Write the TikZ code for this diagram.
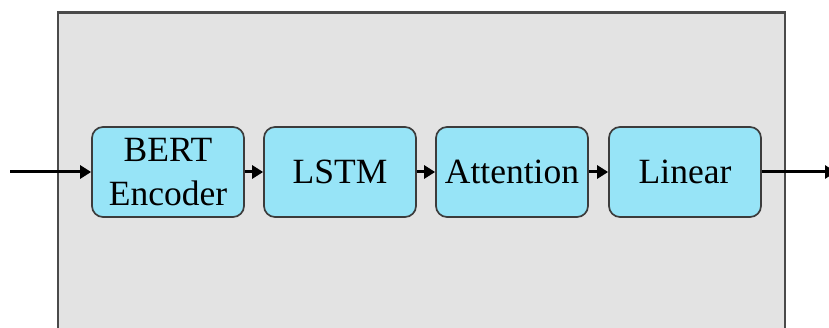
\documentclass[tikz,border=0pt]{standalone}
\usepackage{fontspec}
\setmainfont{Liberation Serif}
\usetikzlibrary{arrows.meta}
\definecolor{panelfill}{HTML}{E3E3E3}
\definecolor{panelline}{HTML}{4A4A4A}
\definecolor{blockfill}{HTML}{97E4F7}
\definecolor{blockline}{HTML}{3C3C3C}
\tikzset{
  x=1pt, y=-1pt,
  block/.style={draw=blockline, fill=blockfill, line width=1.7pt,
    rounded corners=11pt, minimum width=152pt, minimum height=90pt,
    inner sep=0pt, align=center,
    font=\fontsize{35.5}{44}\selectfont},
  flow/.style={line width=3pt, -{Triangle[length=11pt,width=13pt]}},
}
\begin{document}
\begin{tikzpicture}
  \useasboundingbox (0,0) rectangle (829,328);
  \begin{scope}
    \clip (0,0) rectangle (829,328);
    % enclosing panel
    \draw[draw=panelline, fill=panelfill, line width=2.2pt] (58,12.5) rectangle (785,345);
  \end{scope}
  % processing blocks
  \node[block] (bert) at (168,172) {BERT\\Encoder};
  \node[block] (lstm) at (340,172) {LSTM};
  \node[block] (attn) at (512,172) {Attention};
  \node[block] (lin)  at (685,172) {Linear};
  % input and output ends
  \coordinate (in)  at (10,172);
  \coordinate (out) at (836,172);
  \draw[flow] (in) -- (bert.west);
  \draw[flow] (bert.east) -- (lstm.west);
  \draw[flow] (lstm.east) -- (attn.west);
  \draw[flow] (attn.east) -- (lin.west);
  \draw[flow] (lin.east) -- (out);
\end{tikzpicture}
\end{document}
